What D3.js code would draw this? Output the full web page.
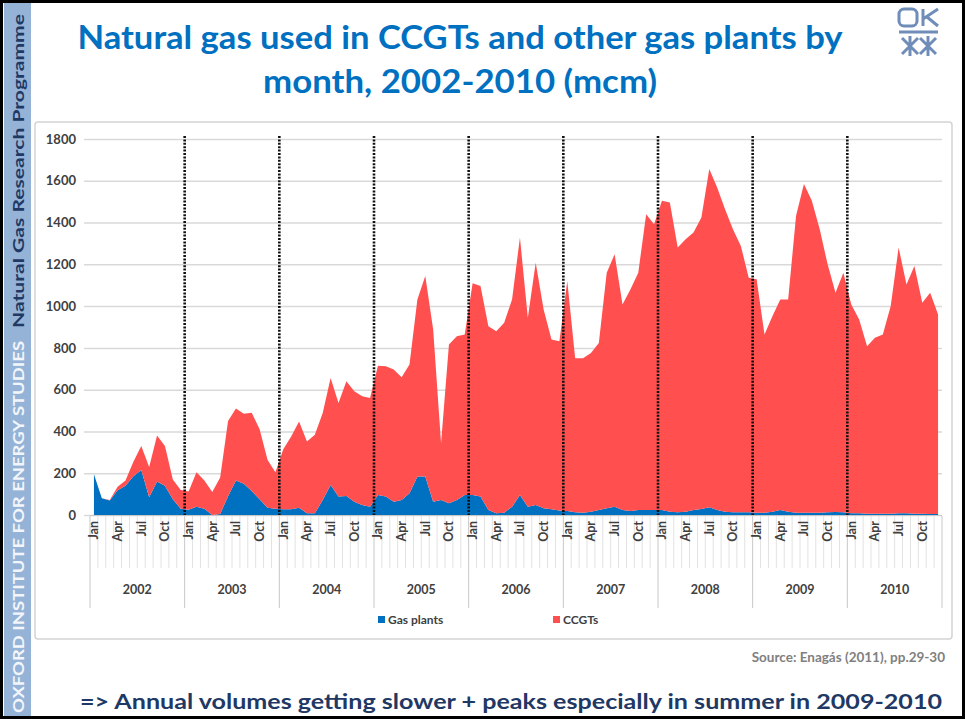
<!DOCTYPE html>
<html>
<head>
<meta charset="utf-8">
<script src="https://d3js.org/d3.v7.min.js"></script>
<style>
  body { margin: 0; background: #fff; }
  svg { display: block; font-family: Lato, "Open Sans", sans-serif; }
</style>
</head>
<body>
<svg id="chart" width="965" height="719"></svg>
<script>
// category labels
const years = ["2002", "2003", "2004", "2005", "2006", "2007", "2008", "2009", "2010"];
const monthNames = ["Jan", "Feb", "Mar", "Apr", "May", "Jun", "Jul", "Aug", "Sep", "Oct", "Nov", "Dec"];
const shownMonths = ["Jan", "Apr", "Jul", "Oct"];
const yTicks = [0, 200, 400, 600, 800, 1000, 1200, 1400, 1600, 1800];

// mcm per month (one row per year)
const gasPlants = [
  195, 80, 70, 118, 140, 185, 215, 85, 160, 140, 75, 30,
  25, 40, 30, 0, 5, 90, 165, 150, 115, 75, 35, 30,
  28, 27, 35, 8, 8, 72, 144, 88, 91, 64, 48, 40,
  96, 88, 64, 72, 104, 184, 184, 64, 72, 56, 72, 96,
  96, 88, 24, 8, 11, 40, 96, 40, 48, 32, 27, 21,
  19, 13, 11, 16, 24, 32, 40, 24, 19, 24, 24, 24,
  24, 16, 13, 16, 24, 29, 37, 24, 16, 13, 13, 13,
  11, 11, 16, 24, 16, 11, 11, 11, 11, 13, 14, 13,
  8, 8, 6, 6, 6, 6, 8, 8, 6, 6, 5, 5
];
const ccgts = [
  0, 0, 2, 17, 25, 70, 115, 145, 220, 190, 95, 90,
  87, 165, 135, 110, 175, 360, 345, 335, 375, 335, 230, 175,
  287, 349, 413, 344, 376, 416, 512, 448, 549, 528, 520, 520,
  619, 624, 632, 588, 616, 848, 960, 824, 272, 760, 784, 768,
  1013, 1008, 880, 872, 909, 992, 1232, 904, 1160, 952, 813, 811,
  1101, 737, 739, 760, 800, 1128, 1208, 984, 1061, 1136, 1416, 1368,
  1480, 1480, 1267, 1304, 1328, 1395, 1619, 1544, 1448, 1355, 1275, 1123,
  1117, 853, 936, 1008, 1016, 1421, 1573, 1493, 1357, 1187, 1050, 1147,
  1000, 928, 802, 842, 858, 994, 1272, 1096, 1186, 1010, 1059, 955
];

const blue = "#0070c0", red = "#ff4f4f";

const data = gasPlants.map((g, i) => ({
  i: i,
  year: years[Math.floor(i / 12)],
  month: monthNames[i % 12],
  gas: g,
  ccgt: ccgts[i]
}));

const svg = d3.select("#chart");

// slide frame + side band
svg.append("rect").attr("x", 0).attr("y", 0).attr("width", 965).attr("height", 719).attr("fill", "#fff");
svg.append("rect").attr("x", 4).attr("y", 0).attr("width", 27).attr("height", 719).attr("fill", "#95b3d7");

svg.append("text")
  .attr("transform", "translate(23.5,713) rotate(-90)")
  .attr("textLength", 372).attr("lengthAdjust", "spacingAndGlyphs")
  .style("font-size", "16px").style("font-weight", "bold").attr("fill", "#f2f6fb")
  .text("OXFORD INSTITUTE FOR ENERGY STUDIES");
svg.append("text")
  .attr("transform", "translate(23.5,328) rotate(-90)")
  .attr("textLength", 314).attr("lengthAdjust", "spacingAndGlyphs")
  .style("font-size", "16px").style("font-weight", "bold").attr("fill", "#1f3864")
  .text("Natural Gas Research Programme");

svg.append("rect").attr("x", 1.5).attr("y", 1.5).attr("width", 962).attr("height", 716)
  .attr("fill", "none").attr("stroke", "#000").attr("stroke-width", 3);

// title
const title = svg.append("g").attr("fill", blue).style("font-weight", "bold").style("font-size", "32px");
title.append("text").attr("x", 460).attr("y", 49).attr("text-anchor", "middle")
  .attr("textLength", 765).attr("lengthAdjust", "spacingAndGlyphs")
  .text("Natural gas used in CCGTs and other gas plants by");
title.append("text").attr("x", 460).attr("y", 93).attr("text-anchor", "middle")
  .attr("textLength", 394).attr("lengthAdjust", "spacingAndGlyphs")
  .text("month, 2002-2010 (mcm)");

// small logo top right
const logo = svg.append("g").attr("transform", "translate(898,8)")
  .attr("fill", "none").attr("stroke", "#6f8db8").attr("stroke-width", 3);
logo.append("rect").attr("x", 1).attr("y", 1).attr("width", 18).attr("height", 17).attr("rx", 5);
logo.append("path").attr("d", "M25,1 V18 M25,11 L40,1 M29,9 L40,18");
logo.append("path").attr("d", "M1,24 H40");
logo.append("path").attr("d", "M12,28 V48 M4,46 L20,30 M20,46 L4,30 M30,28 V48 M22,30 L38,46 M38,30 L22,46");

// chart box
svg.append("rect").attr("x", 35).attr("y", 122).attr("width", 917).attr("height", 517).attr("rx", 3)
  .attr("fill", "#fff").attr("stroke", "#d4d4d4").attr("stroke-width", 1.5);

const x = d3.scaleBand().domain(d3.range(data.length)).range([90, 942]);
const y = d3.scaleLinear().domain([0, 1800]).range([515, 139]);
const cx = i => x(i) + x.bandwidth() / 2;

// gridlines
svg.append("g")
  .attr("transform", "translate(84,0)")
  .call(d3.axisLeft(y).tickValues(yTicks).tickSize(-858).tickFormat(""))
  .call(g => g.select(".domain").remove())
  .call(g => g.selectAll("line").attr("stroke", "#d9d9d9").attr("stroke-width", 1.5));

// y labels
svg.append("g")
  .attr("transform", "translate(82,0)")
  .call(d3.axisLeft(y).tickValues(yTicks).tickSize(0).tickPadding(6).tickFormat(d3.format("d")))
  .call(g => g.select(".domain").remove())
  .call(g => g.selectAll("text")
    .style("font-family", "Lato, sans-serif").style("font-size", "13px")
    .style("font-weight", "bold").attr("fill", "#404040"));

// stacked areas
const stack = d3.stack().keys(["gas", "ccgt"]);
const series = stack(data);
const area = d3.area()
  .x(d => cx(d.data.i))
  .y0(d => y(d[0]))
  .y1(d => y(d[1]));

svg.append("g").selectAll("path")
  .data(series)
  .join("path")
  .attr("fill", (d, k) => k === 0 ? blue : red)
  .attr("d", area);

// dotted year separators
svg.append("g").selectAll("line")
  .data(years.slice(1))
  .join("line")
  .attr("x1", (d, k) => x((k + 1) * 12))
  .attr("x2", (d, k) => x((k + 1) * 12))
  .attr("y1", 136).attr("y2", 515)
  .attr("stroke", "#111").attr("stroke-width", 2.6)
  .attr("stroke-dasharray", "2,1.4");

// category axis: month ticks, labels, years
const axis = svg.append("g");
axis.append("line").attr("x1", 90).attr("x2", 942).attr("y1", 515.5).attr("y2", 515.5)
  .attr("stroke", "#c8c8c8");
axis.selectAll(".mtick")
  .data(d3.range(data.length + 1))
  .join("line")
  .attr("class", "mtick")
  .attr("x1", i => i === data.length ? 942 : x(i))
  .attr("x2", i => i === data.length ? 942 : x(i))
  .attr("y1", 516)
  .attr("y2", i => i % 12 === 0 ? 608 : 568)
  .attr("stroke", i => i % 12 === 0 ? "#c8c8c8" : "#e2e2e2")
  .attr("stroke-width", 1);

axis.selectAll(".mlab")
  .data(data.filter(d => shownMonths.includes(d.month)))
  .join("text")
  .attr("class", "mlab")
  .attr("transform", d => `translate(${cx(d.i) + 4.5},521) rotate(-90)`)
  .attr("text-anchor", "end")
  .style("font-size", "12.5px")
  .style("font-weight", "bold")
  .attr("fill", "#404040")
  .text(d => d.month);

axis.selectAll(".ylab")
  .data(years)
  .join("text")
  .attr("class", "ylab")
  .attr("x", (d, k) => x(k * 12) + x.bandwidth() * 6)
  .attr("y", 594)
  .attr("text-anchor", "middle")
  .style("font-size", "12.5px")
  .style("font-weight", "bold")
  .attr("fill", "#404040")
  .text(d => d);

// legend
const legend = svg.append("g").attr("transform", "translate(378,620)");
const items = [{ name: "Gas plants", color: blue, dx: 0 }, { name: "CCGTs", color: red, dx: 175 }];
items.forEach(it => {
  legend.append("rect").attr("x", it.dx).attr("y", -4).attr("width", 7).attr("height", 7).attr("fill", it.color);
  legend.append("text").attr("x", it.dx + 10).attr("y", 0).attr("dy", "0.35em")
    .style("font-size", "12px").style("font-weight", "bold").attr("fill", "#404040").text(it.name);
});

// source and comment
svg.append("text").attr("x", 945).attr("y", 662).attr("text-anchor", "end")
  .style("font-size", "13.5px").style("font-weight", "bold").attr("fill", "#808080")
  .text("Source: Enagás (2011), pp.29-30");

svg.append("text").attr("x", 80).attr("y", 709)
  .attr("textLength", 862).attr("lengthAdjust", "spacingAndGlyphs")
  .style("font-size", "21px").style("font-weight", "bold").attr("fill", "#1f3864")
  .text("=> Annual volumes getting slower + peaks especially in summer in 2009-2010");
</script>
</body>
</html>
